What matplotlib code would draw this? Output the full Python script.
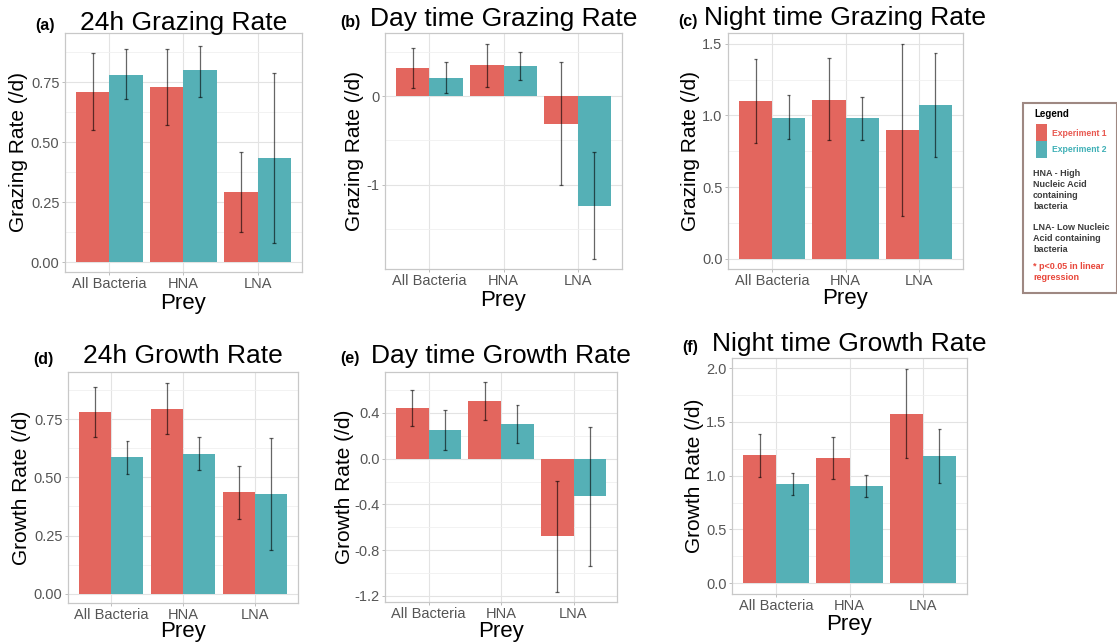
import numpy as np
import matplotlib.pyplot as plt
from matplotlib.patches import Rectangle
from matplotlib.ticker import MultipleLocator, FormatStrFormatter

plt.rcParams['font.family'] = ['Liberation Sans', 'DejaVu Sans']
plt.rcParams['axes.unicode_minus'] = False

prey = ['All Bacteria', 'HNA', 'LNA']

# (a) 24h grazing rate
graz24_e1 = [0.71, 0.73, 0.295]
graz24_e1_lo = [0.55, 0.57, 0.125]
graz24_e1_hi = [0.87, 0.89, 0.46]
graz24_e2 = [0.78, 0.80, 0.435]
graz24_e2_lo = [0.68, 0.69, 0.08]
graz24_e2_hi = [0.89, 0.90, 0.79]

# (b) day time grazing rate
grazday_e1 = [0.32, 0.35, -0.31]
grazday_e1_lo = [0.09, 0.11, -1.0]
grazday_e1_hi = [0.55, 0.59, 0.385]
grazday_e2 = [0.21, 0.34, -1.24]
grazday_e2_lo = [0.04, 0.18, -0.63]
grazday_e2_hi = [0.385, 0.50, -1.84]

# (c) night time grazing rate
grazngt_e1 = [1.10, 1.11, 0.90]
grazngt_e1_lo = [0.81, 0.83, 0.30]
grazngt_e1_hi = [1.39, 1.40, 1.50]
grazngt_e2 = [0.985, 0.98, 1.07]
grazngt_e2_lo = [0.835, 0.83, 0.71]
grazngt_e2_hi = [1.14, 1.13, 1.435]

# (d) 24h growth rate
grow24_e1 = [0.78, 0.795, 0.437]
grow24_e1_lo = [0.672, 0.685, 0.323]
grow24_e1_hi = [0.888, 0.905, 0.55]
grow24_e2 = [0.586, 0.602, 0.428]
grow24_e2_lo = [0.514, 0.532, 0.187]
grow24_e2_hi = [0.658, 0.672, 0.67]

# (e) day time growth rate
growday_e1 = [0.444, 0.505, -0.68]
growday_e1_lo = [0.283, 0.342, -1.168]
growday_e1_hi = [0.604, 0.672, -0.196]
growday_e2 = [0.254, 0.301, -0.33]
growday_e2_lo = [0.079, 0.137, -0.943]
growday_e2_hi = [0.429, 0.467, 0.277]

# (f) night time growth rate
growngt_e1 = [1.19, 1.16, 1.57]
growngt_e1_lo = [0.99, 0.97, 1.16]
growngt_e1_hi = [1.39, 1.36, 1.99]
growngt_e2 = [0.92, 0.90, 1.18]
growngt_e2_lo = [0.82, 0.80, 0.935]
growngt_e2_hi = [1.02, 1.005, 1.43]

red = '#E3665E'
teal = '#55B0B6'
W, H = 1117, 642


def fx(x):
    return x / W


def fy(y):
    return 1 - y / H


panels = [
    dict(tag='(a)', title='24h Grazing Rate', ylab='Grazing Rate (/d)',
         data=(graz24_e1, graz24_e1_lo, graz24_e1_hi, graz24_e2, graz24_e2_lo, graz24_e2_hi),
         box=(65, 33, 302, 272), ylim=(-0.04, 0.955), major=0.25, fmt='%.2f',
         tagpos=(35, 30), tbase=30, ylx=19, xlb=309),
    dict(tag='(b)', title='Day time Grazing Rate', ylab='Grazing Rate (/d)',
         data=(grazday_e1, grazday_e1_lo, grazday_e1_hi, grazday_e2, grazday_e2_lo, grazday_e2_hi),
         box=(385, 33, 622, 269), ylim=(-1.955, 0.717), major=1.0, fmt='%d',
         tagpos=(340, 27), tbase=26, ylx=354, xlb=306),
    dict(tag='(c)', title='Night time Grazing Rate', ylab='Grazing Rate (/d)',
         data=(grazngt_e1, grazngt_e1_lo, grazngt_e1_hi, grazngt_e2, grazngt_e2_lo, grazngt_e2_hi),
         box=(728, 33, 963, 269), ylim=(-0.07, 1.574), major=0.5, fmt='%.1f',
         tagpos=(678, 26), tbase=25, ylx=691, xlb=304),
    dict(tag='(d)', title='24h Growth Rate', ylab='Growth Rate (/d)',
         data=(grow24_e1, grow24_e1_lo, grow24_e1_hi, grow24_e2, grow24_e2_lo, grow24_e2_hi),
         box=(68, 372, 298, 603), ylim=(-0.04, 0.953), major=0.25, fmt='%.2f',
         tagpos=(33, 364), tbase=363, ylx=22, xlb=637),
    dict(tag='(e)', title='Day time Growth Rate', ylab='Growth Rate (/d)',
         data=(growday_e1, growday_e1_lo, growday_e1_hi, growday_e2, growday_e2_lo, growday_e2_hi),
         box=(385, 372, 617, 602), ylim=(-1.255, 0.759), major=0.4, fmt='%.1f',
         tagpos=(340, 363), tbase=363, ylx=344, xlb=637),
    dict(tag='(f)', title='Night time Growth Rate', ylab='Growth Rate (/d)',
         data=(growngt_e1, growngt_e1_lo, growngt_e1_hi, growngt_e2, growngt_e2_lo, growngt_e2_hi),
         box=(732, 358, 967, 594), ylim=(-0.1, 2.093), major=0.5, fmt='%.1f',
         tagpos=(682, 352), tbase=351, ylx=695, xlb=630),
]

fig = plt.figure(figsize=(W / 100, H / 100), dpi=100)

x = np.arange(len(prey))
bw = 0.45
for p in panels:
    x0, y0, x1, y1 = p['box']
    ax = fig.add_axes([fx(x0), fy(y1), fx(x1) - fx(x0), fy(y0) - fy(y1)])
    e1, e1lo, e1hi, e2, e2lo, e2hi = [np.array(v) for v in p['data']]

    ax.bar(x - bw / 2, e1, bw, color=red, zorder=2)
    ax.bar(x + bw / 2, e2, bw, color=teal, zorder=2)
    for xs, lo, hi in [(x - bw / 2, e1lo, e1hi), (x + bw / 2, e2lo, e2hi)]:
        ymin = np.minimum(lo, hi)
        ymax = np.maximum(lo, hi)
        ax.vlines(xs, ymin, ymax, color='black', alpha=0.6, lw=0.9, zorder=3)
        ax.hlines(np.concatenate([ymin, ymax]), np.tile(xs, 2) - 0.025, np.tile(xs, 2) + 0.025,
                  color='black', alpha=0.6, lw=0.9, zorder=3)

    ax.set_xlim(-0.6, 2.6)
    ax.set_ylim(*p['ylim'])
    ax.set_xticks(x)
    ax.set_xticklabels(prey)
    ax.yaxis.set_major_locator(MultipleLocator(p['major']))
    ax.yaxis.set_minor_locator(MultipleLocator(p['major'] / 2))
    ax.yaxis.set_major_formatter(FormatStrFormatter(p['fmt']))
    ax.grid(which='major', color='#E3E3E3', lw=0.8, zorder=0)
    ax.grid(which='minor', axis='y', color='#F0F0F0', lw=0.6, zorder=0)
    ax.set_axisbelow(True)
    ax.tick_params(which='major', length=2.5, width=0.6, color='#B3B3B3',
                   labelcolor='#555555', labelsize=10.5, pad=1.5)
    ax.tick_params(axis='x', pad=1)
    ax.tick_params(which='minor', length=0)
    for s in ax.spines.values():
        s.set_color('#C8C8C8')
        s.set_linewidth(0.9)

    cx = (x0 + x1) / 2
    cy = (y0 + y1) / 2
    fig.text(fx(cx), fy(p['tbase']), p['title'], ha='center', va='baseline', fontsize=19)
    fig.text(fx(p['tagpos'][0]), fy(p['tagpos'][1]), p['tag'], ha='left', va='baseline',
             fontsize=11.5, fontweight='bold')
    fig.text(fx(p['ylx']), fy(cy), p['ylab'], rotation=90, ha='center', va='center', fontsize=15)
    fig.text(fx(cx), fy(p['xlb']), 'Prey', ha='center', va='baseline', fontsize=16)

# legend box drawn on the figure
fig.patches.append(Rectangle((fx(1023), fy(293)), fx(1117) - fx(1023), fy(103) - fy(293),
                             transform=fig.transFigure, facecolor='white',
                             edgecolor='#9E8882', lw=1.5))
fig.text(fx(1034), fy(114), 'Legend', ha='left', va='center', fontsize=7, fontweight='bold')
fig.patches.append(Rectangle((fx(1036), fy(141)), fx(11), 17 / H, transform=fig.transFigure,
                             facecolor=red, edgecolor='none'))
fig.patches.append(Rectangle((fx(1036), fy(158)), fx(11), 17 / H, transform=fig.transFigure,
                             facecolor=teal, edgecolor='none'))
fig.text(fx(1052), fy(133), 'Experiment 1', ha='left', va='center', fontsize=6.2,
         fontweight='bold', color='#E8574F')
fig.text(fx(1052), fy(150), 'Experiment 2', ha='left', va='center', fontsize=6.2,
         fontweight='bold', color='#3FB0B6')
fig.text(fx(1033), fy(169), 'HNA - High\nNucleic Acid\ncontaining\nbacteria', ha='left', va='top',
         fontsize=6.5, fontweight='bold', color='#3C3C3C', linespacing=1.3)
fig.text(fx(1033), fy(223), 'LNA- Low Nucleic\nAcid containing\nbacteria', ha='left', va='top',
         fontsize=6.5, fontweight='bold', color='#3C3C3C', linespacing=1.3)
fig.text(fx(1033), fy(262), '* p<0.05 in linear\nregression', ha='left', va='top',
         fontsize=6.5, fontweight='bold', color='#E8463A', linespacing=1.3)

plt.savefig('out.png', dpi=100)
